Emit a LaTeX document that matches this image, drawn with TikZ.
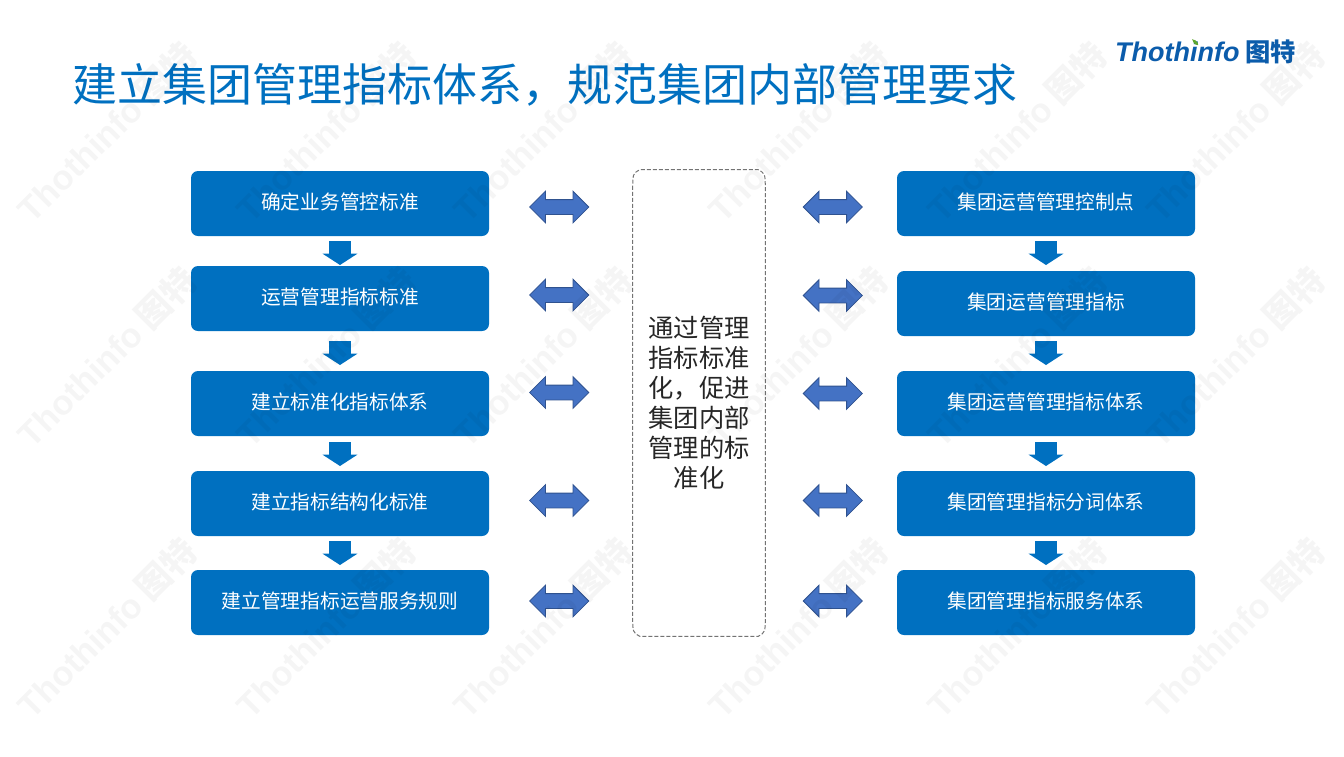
\documentclass[tikz,border=0pt]{standalone}
\usepackage{fontspec}
\setmainfont{Noto Sans CJK SC}
\newfontfamily\latinfont{Liberation Sans}
\usetikzlibrary{shapes.arrows, positioning}

\definecolor{boxblue}{HTML}{0070C0}
\definecolor{arrowblue}{HTML}{4472C4}
\definecolor{arrowedge}{HTML}{2F528F}
\definecolor{logoblue}{HTML}{0B5CAB}
\definecolor{leafgreen}{HTML}{5FA62E}

\begin{document}
\begin{tikzpicture}[
    step box/.style = {rectangle, fill=boxblue, text=white, rounded corners=1.75mm, inner sep=0pt, outer sep=0pt, minimum width=74.5mm, minimum height=16.25mm, text height=12pt, text depth=2.8pt, font=\fontsize{14}{17}\selectfont},
    down arrow/.style = {single arrow, fill=boxblue, inner xsep=0pt, inner ysep=2.625mm, outer sep=0pt, rotate=-90, anchor=west, minimum height=6mm, minimum width=8.6mm, single arrow head extend=1.65mm, single arrow tip angle=114, single arrow head indent=0mm},
    link arrow/.style = {double arrow, fill=arrowblue, draw=arrowedge, line width=0.2mm, inner xsep=0pt, inner ysep=1.75mm, outer sep=0pt, minimum height=14.8mm, minimum width=7.7mm, double arrow head extend=2.1mm, double arrow tip angle=90, double arrow head indent=0mm},
    watermark/.style = {text=black, text opacity=0.04, rotate=45, inner sep=0pt, font=\fontsize{24.5}{28}\selectfont\bfseries}]

\useasboundingbox (0,0) rectangle (336mm,-189mm);

\node[anchor=west, inner sep=0pt, text=boxblue, font=\fontsize{32}{38}\selectfont] (title) at (18mm,-21.1mm) {建立集团管理指标体系，规范集团内部管理要求};
\node[anchor=west, inner sep=0pt, text=logoblue, font=\fontsize{18}{22}\selectfont] (logo) at (278.7mm,-13mm) {{\latinfont\fontsize{19.2}{22}\selectfont\bfseries\itshape Thothinfo} {\bfseries 图特}};
\fill[leafgreen] (298mm,-9.8mm) .. controls (299.4mm,-10mm) and (299.6mm,-11mm) .. (299.5mm,-11.3mm) .. controls (298.6mm,-11.2mm) and (298.2mm,-10.6mm) .. (298mm,-9.8mm);

% left column
\node[step box] (L1) at (85mm,-50.875mm) {确定业务管控标准};
\node[step box, below=7.5mm of L1] (L2) {运营管理指标标准};
\node[step box, below=10mm of L2] (L3) {建立标准化指标体系};
\node[step box, below=8.75mm of L3] (L4) {建立指标结构化标准};
\node[step box, below=8.5mm of L4] (L5) {建立管理指标运营服务规则};

% right column
\node[step box] (R1) at (261.5mm,-50.875mm) {集团运营管理控制点};
\node[step box, below=8.75mm of R1] (R2) {集团运营管理指标};
\node[step box, below=8.75mm of R2] (R3) {集团运营管理指标体系};
\node[step box, below=8.75mm of R3] (R4) {集团管理指标分词体系};
\node[step box, below=8.5mm of R4] (R5) {集团管理指标服务体系};

% middle panel
\node[minimum width=33mm, minimum height=116.5mm, inner sep=0pt, align=center, text=black!85, font=\fontsize{18}{21.4}\selectfont] (panel) at (174.75mm,-100.75mm) {通过管理\\指标标准\\化，促进\\集团内部\\管理的标\\准化};
\draw[black!55, line width=0.25mm, dash pattern=on 1mm off 0.5mm]
  ([yshift=-5mm]panel.north west) .. controls ([yshift=-1mm]panel.north west) .. ([xshift=1.75mm]panel.north west)
  -- ([xshift=-1.75mm]panel.north east) .. controls ([yshift=-1mm]panel.north east) .. ([yshift=-5mm]panel.north east)
  -- ([yshift=5mm]panel.south east) .. controls ([yshift=1mm]panel.south east) .. ([xshift=-1.75mm]panel.south east)
  -- ([xshift=1.75mm]panel.south west) .. controls ([yshift=1mm]panel.south west) .. ([yshift=5mm]panel.south west)
  -- cycle;

% down arrows
\node[below=1.25mm of L1, down arrow] (LD1) {};
\node[below=2.5mm of L2, down arrow] (LD2) {};
\node[below=1.5mm of L3, down arrow] (LD3) {};
\node[below=1.25mm of L4, down arrow] (LD4) {};
\node[below=1.25mm of R1, down arrow] (RD1) {};
\node[below=1.25mm of R2, down arrow] (RD2) {};
\node[below=1.5mm of R3, down arrow] (RD3) {};
\node[below=1.25mm of R4, down arrow] (RD4) {};

% links to the panel
\node[link arrow, right=10.15mm of L1, yshift=-0.875mm] (LA1) {};
\node[link arrow, right=10.15mm of L2, yshift=0.875mm] (LA2) {};
\node[link arrow, right=10.15mm of L3, yshift=2.75mm] (LA3) {};
\node[link arrow, right=10.15mm of L4, yshift=0.75mm] (LA4) {};
\node[link arrow, right=10.15mm of L5, yshift=0.375mm] (LA5) {};
\node[link arrow, left=8.65mm of R1, yshift=-0.875mm] (RA1) {};
\node[link arrow, left=8.65mm of R2, yshift=2mm] (RA2) {};
\node[link arrow, left=8.65mm of R3, yshift=2.5mm] (RA3) {};
\node[link arrow, left=8.65mm of R4, yshift=0.75mm] (RA4) {};
\node[link arrow, left=8.65mm of R5, yshift=0.375mm] (RA5) {};

% watermark
\foreach \wx in {26.75,81.5,135.75,199.5,254.25,308.75}
  \foreach \wy in {33,89.25,157}
    \node[watermark] (mark-\wx-\wy) at (\wx mm,-\wy mm) {{\latinfont Thothinfo} 图特};
\end{tikzpicture}
\end{document}
